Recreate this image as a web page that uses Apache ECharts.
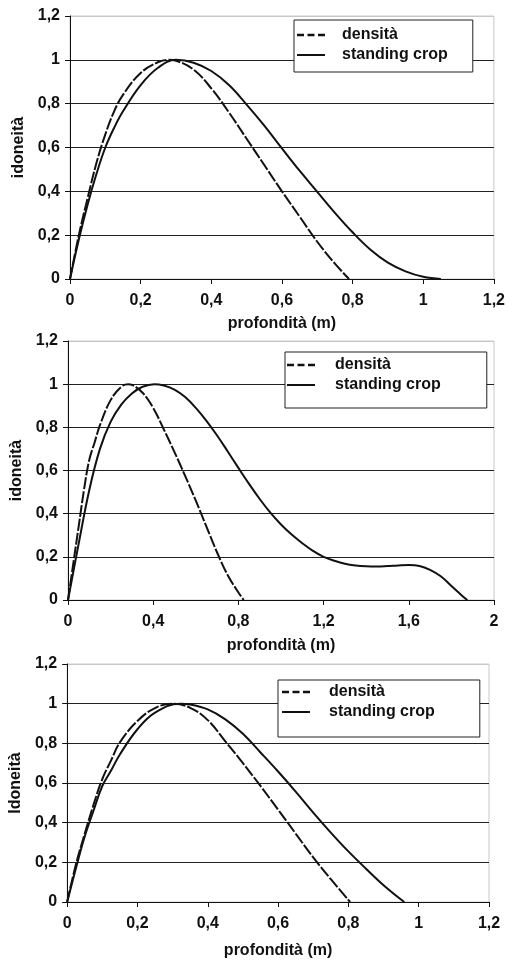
<!DOCTYPE html>
<html>
<head>
<meta charset="utf-8">
<script src="https://cdn.jsdelivr.net/npm/echarts@6/dist/echarts.min.js"></script>
<style>
  html, body { margin: 0; padding: 0; background: #fff; }
  #chart { width: 508px; height: 960px; }
</style>
</head>
<body>
<div id="chart"></div>
<script>
// --- dati ---
const seriesNames = ["densità", "standing crop"];

// grafico 1
const depthDens1 = [0, 0.025, 0.05, 0.075, 0.1, 0.125, 0.15, 0.2, 0.25, 0.28, 0.3, 0.35, 0.4, 0.45, 0.5, 0.55, 0.6, 0.65, 0.7, 0.75, 0.79];
const dens1 = [0, 0.2, 0.37, 0.53, 0.66, 0.765, 0.84, 0.94, 0.99, 1.0, 0.996, 0.955, 0.87, 0.76, 0.64, 0.52, 0.4, 0.285, 0.17, 0.07, 0];
const depthCrop1 = [0, 0.025, 0.05, 0.075, 0.1, 0.125, 0.15, 0.2, 0.25, 0.3, 0.35, 0.4, 0.45, 0.5, 0.55, 0.6, 0.65, 0.7, 0.75, 0.8, 0.85, 0.9, 0.95, 1.0, 1.05];
const crop1 = [0, 0.18, 0.34, 0.48, 0.6, 0.69, 0.765, 0.885, 0.965, 1.0, 0.987, 0.949, 0.885, 0.796, 0.7, 0.596, 0.494, 0.398, 0.302, 0.213, 0.135, 0.075, 0.035, 0.01, 0];

// grafico 2
const depthDens2 = [0, 0.025, 0.05, 0.075, 0.1, 0.125, 0.15, 0.2, 0.25, 0.283, 0.3, 0.35, 0.4, 0.45, 0.5, 0.55, 0.6, 0.65, 0.7, 0.75, 0.8, 0.825];
const dens2 = [0, 0.17, 0.34, 0.51, 0.65, 0.73, 0.81, 0.926, 0.988, 1.0, 0.997, 0.96, 0.89, 0.79, 0.685, 0.575, 0.46, 0.34, 0.22, 0.115, 0.035, 0];
const depthCrop2 = [0, 0.05, 0.1, 0.15, 0.2, 0.25, 0.3, 0.35, 0.405, 0.45, 0.5, 0.55, 0.6, 0.65, 0.7, 0.75, 0.8, 0.85, 0.9, 0.95, 1.0, 1.05, 1.1, 1.15, 1.2, 1.25, 1.3, 1.35, 1.4, 1.45, 1.5, 1.55, 1.6, 1.65, 1.7, 1.75, 1.8, 1.85, 1.875];
const crop2 = [0, 0.26, 0.51, 0.7, 0.825, 0.905, 0.957, 0.988, 1.0, 0.994, 0.975, 0.94, 0.89, 0.83, 0.762, 0.688, 0.612, 0.538, 0.468, 0.405, 0.35, 0.303, 0.263, 0.228, 0.2, 0.182, 0.168, 0.16, 0.156, 0.155, 0.157, 0.16, 0.162, 0.158, 0.14, 0.11, 0.065, 0.02, 0];

// grafico 3
const depthDens3 = [0, 0.025, 0.05, 0.075, 0.1, 0.125, 0.15, 0.2, 0.25, 0.3, 0.35, 0.4, 0.45, 0.5, 0.55, 0.6, 0.65, 0.7, 0.75, 0.805];
const dens3 = [0, 0.19, 0.344, 0.49, 0.62, 0.714, 0.805, 0.913, 0.978, 1.0, 0.979, 0.917, 0.81, 0.7, 0.585, 0.466, 0.345, 0.225, 0.115, 0];
const depthCrop3 = [0, 0.025, 0.05, 0.075, 0.1, 0.125, 0.15, 0.2, 0.25, 0.322, 0.35, 0.4, 0.45, 0.5, 0.55, 0.6, 0.65, 0.7, 0.75, 0.8, 0.85, 0.9, 0.959];
const crop3 = [0, 0.17, 0.33, 0.46, 0.585, 0.663, 0.744, 0.871, 0.955, 1.0, 0.996, 0.971, 0.921, 0.848, 0.754, 0.658, 0.557, 0.451, 0.35, 0.255, 0.168, 0.085, 0];

// assi
const xMax = [1.2, 2, 1.2];
const xStep = [0.2, 0.4, 0.2];
const yTitles = ["idoneità", "idoneità", "Idoneità"];
const xTitle = "profondità (m)";

const FONT = "Liberation Sans, Arial, sans-serif";
const INK = "#111";

const pairs = (xs, ys) => xs.map((x, i) => [x, ys[i]]);
const comma = v => String(Number(v.toFixed(1))).replace(".", ",");

const grids = [
  { left: 70, right: 12, top: 16, height: 263 },
  { left: 68, right: 14, top: 341, height: 259 },
  { left: 67, right: 19, top: 664, height: 240 }
];
const nameGapsX = [37, 38, 41];
const nameGapsY = [39, 39, 43];

const legendBoxes = [
  { left: 294, top: 20, padding: [6, 25, 8, 3], textPad: 12 },
  { left: 285, top: 352, padding: [4, 46, 14, 2], textPad: 15 },
  { left: 278, top: 680, padding: [3, 45, 16, 4], textPad: 14 }
];

// icone legenda: tratteggio e linea continua
const DASH_ICON = "path://M0,0h7v2.5h-7z M10.5,0h7v2.5h-7z M21,0h7v2.5h-7z";
const LINE_ICON = "path://M0,0h28v2h-28z";

const chart = echarts.init(document.getElementById("chart"));

const xAxes = xMax.map((max, i) => ({
  type: "value",
  gridIndex: i,
  min: 0,
  max: max,
  interval: xStep[i],
  name: xTitle,
  nameLocation: "middle",
  nameGap: nameGapsX[i],
  nameTextStyle: { fontFamily: FONT, fontWeight: "bold", fontSize: 16, color: INK },
  axisLine: { show: true, lineStyle: { color: INK, width: 1 } },
  axisTick: { show: true, length: 5, lineStyle: { color: INK } },
  axisLabel: {
    margin: 14,
    fontFamily: FONT,
    fontWeight: "bold",
    fontSize: 16,
    color: INK,
    formatter: comma
  },
  splitLine: { show: false }
}));

const yAxes = yTitles.map((t, i) => ({
  type: "value",
  gridIndex: i,
  min: 0,
  max: 1.2,
  interval: 0.2,
  name: t,
  nameLocation: "middle",
  nameGap: nameGapsY[i],
  nameTextStyle: { fontFamily: FONT, fontWeight: "bold", fontSize: 16, color: INK },
  axisLine: { show: true, lineStyle: { color: INK, width: 1 } },
  axisTick: { show: true, length: 5, lineStyle: { color: INK } },
  axisLabel: {
    margin: 10,
    fontFamily: FONT,
    fontWeight: "bold",
    fontSize: 16,
    color: INK,
    formatter: comma
  },
  splitLine: {
    show: true,
    lineStyle: {
      color: ["#222", "#222", "#222", "#222", "#222", "#222", "#c8c8c8"],
      width: 1
    }
  }
}));

const curves = [
  [depthDens1, dens1, depthCrop1, crop1],
  [depthDens2, dens2, depthCrop2, crop2],
  [depthDens3, dens3, depthCrop3, crop3]
];

const series = [];
curves.forEach((c, i) => {
  series.push({
    name: seriesNames[0],
    type: "line",
    xAxisIndex: i,
    yAxisIndex: i,
    data: pairs(c[0], c[1]),
    symbol: "none",
    smooth: 0.4,
    itemStyle: { color: INK },
    lineStyle: { color: INK, width: 2, type: [12, 2] },
    z: 3
  });
  series.push({
    name: seriesNames[1],
    type: "line",
    xAxisIndex: i,
    yAxisIndex: i,
    data: pairs(c[2], c[3]),
    symbol: "none",
    smooth: 0.4,
    itemStyle: { color: INK },
    lineStyle: { color: INK, width: 2, type: "solid" },
    z: 2
  });
});

const legends = legendBoxes.map(b => ({
  orient: "vertical",
  left: b.left,
  top: b.top,
  padding: b.padding,
  itemGap: 2,
  itemWidth: 28,
  itemHeight: 3,
  backgroundColor: "#fff",
  borderColor: "#222",
  borderWidth: 1,
  borderRadius: 0,
  selectedMode: false,
  itemStyle: { color: INK, borderWidth: 0 },
  lineStyle: { width: 0 },
  data: [
    { name: seriesNames[0], icon: DASH_ICON },
    { name: seriesNames[1], icon: LINE_ICON }
  ],
  textStyle: {
    fontFamily: FONT,
    fontWeight: "bold",
    fontSize: 16,
    lineHeight: 18,
    color: INK,
    padding: [0, 0, 0, b.textPad]
  }
}));

chart.setOption({
  backgroundColor: "#fff",
  animation: false,
  grid: grids.map(g => ({
    ...g,
    show: true,
    borderColor: "#c8c8c8",
    borderWidth: 1,
    containLabel: false
  })),
  xAxis: xAxes,
  yAxis: yAxes,
  legend: legends,
  series: series
});

window.addEventListener("resize", () => chart.resize());
</script>
</body>
</html>
